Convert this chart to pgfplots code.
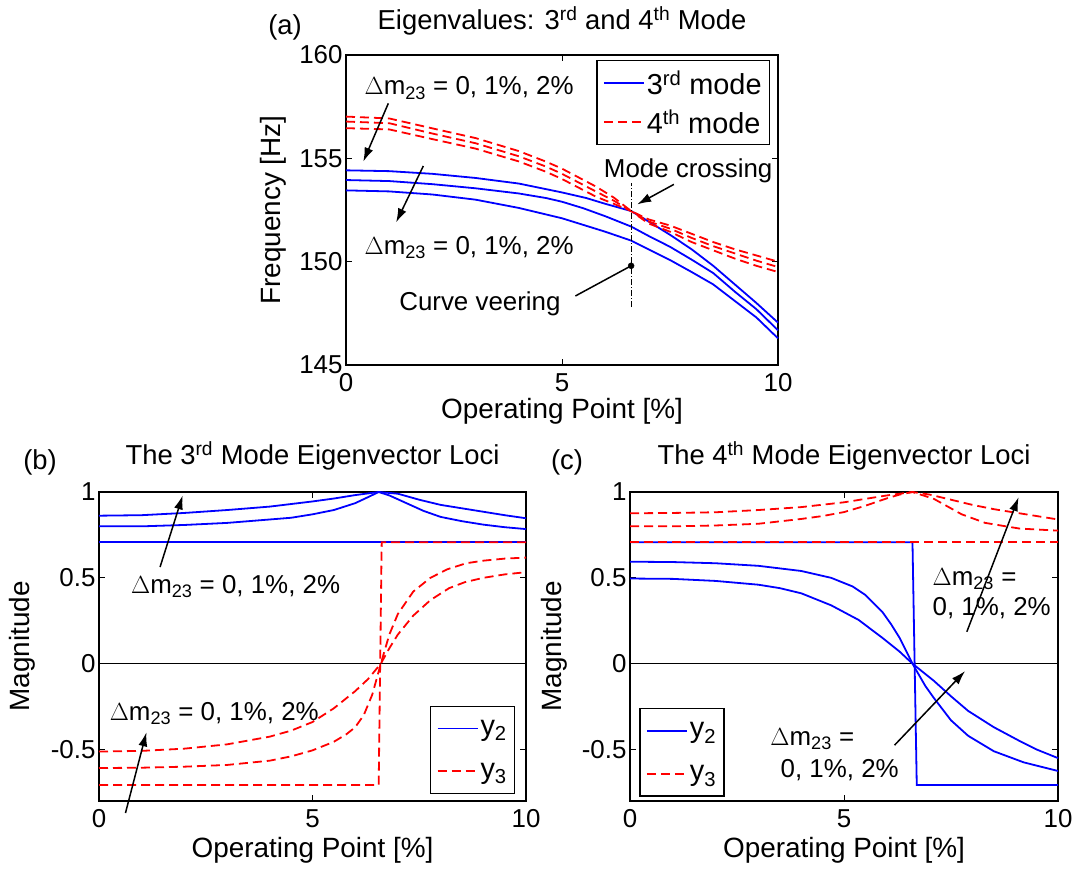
\documentclass[border=0pt]{standalone}
\usepackage{fontspec}
\setmainfont{Liberation Sans}
\usepackage{pgfplots}
\pgfplotsset{compat=1.18}
\usetikzlibrary{arrows.meta}
\definecolor{mblue}{RGB}{0,0,255}
\definecolor{mred}{RGB}{255,0,0}
\tikzset{arr/.style={-{Latex[length=14bp,width=9bp]}, line width=1.5bp, black},
  blu/.style={draw=mblue, color=mblue, line width=1.8bp},
  rdd/.style={draw=mred, color=mred, line width=1.8bp, dash pattern=on 9bp off 5bp}}
\pgfplotsset{
  mat/.style={
    scale only axis,
    xmin=0, xmax=10, xtick={0,5,10}, xticklabels={0,5,10},
    tick align=inside, major tick length=6bp,
    tick style={black, line width=0.8bp},
    axis line style={line width=1.4bp},
    tick label style={font=\fontsize{26}{30}\selectfont},
    xticklabel style={yshift=-5bp},
    label style={font=\fontsize{28}{32}\selectfont},
    title style={font=\fontsize{27.5}{32}\selectfont, anchor=center, at={(0.5,1)}},
    clip=false,
    legend cell align=left,
    legend style={font=\fontsize{29}{33}\selectfont, inner xsep=6bp, draw=black, line width=1.2bp},
    legend image code/.code={\draw[##1] (0bp,0bp) -- (40bp,0bp);},
  },
}
\newcommand{\dm}{$\Delta$m\textsubscript{23}}
\begin{document}
\begin{tikzpicture}
\path[use as bounding box] (0,0) rectangle (1077bp,-869bp);
\node[font=\fontsize{27.5}{32}\selectfont] at (285bp,-27bp) {(a)};
\node[font=\fontsize{27.5}{32}\selectfont] at (40bp,-462bp) {(b)};
\node[font=\fontsize{27.5}{32}\selectfont] at (567bp,-462bp) {(c)};

% ---------------- (a)
\begin{axis}[mat, at={(346bp,-55bp)}, anchor=north west, width=432bp, height=310bp,
  ymin=145, ymax=160, ytick={145,150,155,160}, yticklabels={145,150,155,160},
  title={Eigenvalues: 3\textsuperscript{rd} and 4\textsuperscript{th} Mode},
  title style={yshift=28bp},
  xlabel={Operating Point [\%]}, ylabel={Frequency [Hz]},
  xlabel style={at={(axis description cs:0.5,-0.15)}, anchor=center},
  ylabel style={at={(axis description cs:-0.169,0.5)}, anchor=center},
  legend style={at={(0.982,0.984)}, anchor=north east, inner ysep=8bp, row sep=10bp}]
\addplot[blu, forget plot] coordinates {(0,154.42) (1,154.38) (2,154.25) (3,154.05) (4,153.78) (5,153.35) (5.56,153.08) (6,152.8) (6.6,152.45) (7,151.95) (7.5,151.3) (8,150.6) (8.5,149.8) (9,148.9) (9.5,148.0) (10,147.05)};
\addplot[blu, forget plot] coordinates {(0,153.95) (1,153.9) (2,153.75) (3,153.55) (4,153.3) (4.63,153.08) (5,152.9) (5.5,152.58) (6,152.2) (6.6,151.7) (7,151.25) (7.5,150.72) (8,150.1) (8.5,149.45) (9,148.55) (9.5,147.7) (10,146.68)};
\addplot[blu, forget plot] coordinates {(0,153.45) (1,153.4) (2,153.25) (3,153.0) (4,152.6) (5,152.1) (6,151.45) (6.6,151.02) (7,150.6) (7.5,150.08) (8,149.5) (8.5,148.9) (9,148.1) (9.5,147.3) (10,146.29)};
\addplot[rdd, forget plot] coordinates {(0,157.02) (1,156.93) (2,156.45) (3,155.98) (4,155.35) (4.63,154.84) (5,154.5) (5.79,153.63) (6.2,153.1) (6.6,152.45) (7,152.05) (7.5,151.75) (8,151.35) (8.5,150.95) (9,150.6) (9.5,150.3) (10,150.0)};
\addplot[rdd, forget plot] coordinates {(0,156.78) (1,156.7) (2,156.2) (3,155.73) (4,155.1) (4.63,154.6) (5,154.25) (5.79,153.39) (6.2,152.95) (6.6,152.45) (7,151.95) (7.5,151.6) (8,151.15) (8.5,150.75) (9,150.4) (9.5,150.05) (10,149.74)};
\addplot[rdd, forget plot] coordinates {(0,156.46) (1,156.4) (2,155.93) (3,155.47) (4,154.85) (4.63,154.35) (5,154.0) (5.79,153.14) (6.2,152.8) (6.6,152.45) (7,151.85) (7.5,151.45) (8,150.95) (8.5,150.55) (9,150.15) (9.5,149.8) (10,149.5)};
\addplot[black, line width=0.8bp, dash pattern=on 6bp off 2bp on 1bp off 2bp, forget plot] coordinates {(6.6,147.8) (6.6,153.8)};
\addplot[black, only marks, mark=*, mark size=3bp, forget plot] coordinates {(6.6,149.8)};
\addlegendimage{draw=mblue, color=mblue, line width=1.8bp}
\addlegendentry{3\textsuperscript{rd} mode}
\addlegendimage{draw=mred, color=mred, line width=1.8bp, dash pattern=on 9bp off 5bp}
\addlegendentry{4\textsuperscript{th} mode}
\draw[line width=1.5bp] (6.6,149.8) -- (5.31,148.34);
\node[font=\fontsize{26}{30}\selectfont] at (3.1,147.95) {Curve veering};
\node[font=\fontsize{26}{30}\selectfont] at (7.92,154.4) {Mode crossing};
\draw[arr] (7.59,153.74) -- (6.74,152.77);
\node[font=\fontsize{26}{30}\selectfont] at (2.85,158.4) {\dm{} = 0, 1\%, 2\%};
\draw[arr] (0.98,157.66) -- (0.4,154.84);
\node[font=\fontsize{26}{30}\selectfont] at (2.85,150.7) {\dm{} = 0, 1\%, 2\%};
\draw[arr] (1.79,154.63) -- (1.16,151.9);
\end{axis}

% ---------------- (b)
\begin{axis}[mat, at={(99bp,-492bp)}, anchor=north west, width=427bp, height=309bp,
  ymin=-0.8, ymax=1, ytick={-0.5,0,0.5,1}, yticklabels={-0.5,0,0.5,1},
  title={The 3\textsuperscript{rd} Mode Eigenvector Loci},
  title style={yshift=30bp},
  xlabel={Operating Point [\%]}, ylabel={Magnitude},
  xlabel style={at={(axis description cs:0.5,-0.16)}, anchor=center},
  ylabel style={at={(axis description cs:-0.18,0.5)}, anchor=center},
  legend style={at={(0.975,0.022)}, anchor=south east, inner ysep=12bp, row sep=22bp}]
\addplot[black, line width=0.8bp, forget plot] coordinates {(0,0) (10,0)};
\addplot[blu, forget plot] coordinates {(0,0.862) (1,0.865) (2,0.878) (3,0.895) (4,0.915) (5,0.945) (5.5,0.962) (6,0.982) (6.55,1.0) (7,0.99) (7.5,0.955) (8,0.925) (8.5,0.905) (9,0.885) (9.5,0.865) (10,0.847)};
\addplot[blu, forget plot] coordinates {(0,0.80) (1,0.80) (2,0.808) (3,0.82) (4,0.84) (4.5,0.85) (5,0.87) (5.5,0.895) (6,0.935) (6.3,0.97) (6.55,1.0) (6.8,0.98) (7.2,0.935) (7.6,0.89) (8,0.855) (8.5,0.83) (9,0.81) (9.5,0.795) (10,0.784)};
\addplot[blu, forget plot] coordinates {(0,0.707) (10,0.707)};
\addplot[rdd, forget plot] coordinates {(0,-0.512) (1,-0.508) (2,-0.495) (3,-0.47) (4,-0.425) (4.5,-0.39) (5,-0.34) (5.5,-0.26) (6,-0.16) (6.3,-0.09) (6.6,0) (6.8,0.09) (7.0,0.17) (7.36,0.28) (7.76,0.37) (8.2,0.44) (8.57,0.475) (9,0.5) (9.5,0.52) (10,0.533)};
\addplot[rdd, forget plot] coordinates {(0,-0.608) (1,-0.606) (2,-0.60) (3,-0.59) (4,-0.565) (4.5,-0.54) (5,-0.505) (5.5,-0.455) (5.8,-0.41) (6,-0.37) (6.2,-0.30) (6.4,-0.18) (6.6,0) (6.8,0.17) (7.0,0.29) (7.36,0.42) (7.76,0.5) (8.16,0.55) (8.6,0.585) (9,0.6) (9.5,0.612) (10,0.618)};
\addplot[rdd, forget plot] coordinates {(0,-0.707) (6.55,-0.707) (6.62,0.707) (10,0.707)};
\addlegendimage{draw=mblue, color=mblue, line width=1.8bp}
\addlegendentry{y\textsubscript{2}}
\addlegendimage{draw=mred, color=mred, line width=1.8bp, dash pattern=on 9bp off 5bp}
\addlegendentry{y\textsubscript{3}}
\node[font=\fontsize{26}{30}\selectfont] at (3.2,0.45) {\dm{} = 0, 1\%, 2\%};
\draw[arr] (1.43,0.563) -- (1.96,0.98);
\node[font=\fontsize{26}{30}\selectfont] at (2.7,-0.29) {\dm{} = 0, 1\%, 2\%};
\draw[arr] (0.62,-0.87) -- (1.11,-0.40);
\end{axis}

% ---------------- (c)
\begin{axis}[mat, at={(630bp,-492bp)}, anchor=north west, width=428bp, height=309bp,
  ymin=-0.8, ymax=1, ytick={-0.5,0,0.5,1}, yticklabels={-0.5,0,0.5,1},
  title={The 4\textsuperscript{th} Mode Eigenvector Loci},
  title style={yshift=30bp},
  xlabel={Operating Point [\%]}, ylabel={Magnitude},
  xlabel style={at={(axis description cs:0.5,-0.16)}, anchor=center},
  ylabel style={at={(axis description cs:-0.178,0.5)}, anchor=center},
  legend style={at={(0.022,0.014)}, anchor=south west, inner ysep=12bp, row sep=22bp}]
\addplot[black, line width=0.8bp, forget plot] coordinates {(0,0) (10,0)};
\addplot[blu, forget plot] coordinates {(0,0.594) (1,0.592) (2,0.585) (3,0.57) (4,0.54) (4.7,0.50) (5.2,0.45) (5.5,0.40) (5.9,0.30) (6.1,0.23) (6.3,0.15) (6.6,0) (6.9,-0.13) (7.1,-0.2) (7.5,-0.33) (7.9,-0.42) (8.5,-0.51) (9.2,-0.575) (10,-0.625)};
\addplot[blu, forget plot] coordinates {(0,0.496) (1,0.494) (2,0.482) (3,0.46) (3.5,0.44) (4,0.41) (4.7,0.34) (5.34,0.255) (5.9,0.15) (6.3,0.07) (6.6,0) (7.1,-0.1) (7.5,-0.19) (7.9,-0.275) (8.5,-0.37) (9.1,-0.45) (9.5,-0.5) (10,-0.55)};
\addplot[blu, forget plot] coordinates {(0,0.707) (6.6,0.707) (6.7,-0.707) (10,-0.707)};
\addplot[rdd, forget plot] coordinates {(0,0.876) (1,0.878) (2,0.882) (3,0.895) (4,0.912) (5,0.94) (5.5,0.96) (6,0.98) (6.6,1.0) (7,0.985) (7.5,0.955) (8,0.925) (8.5,0.9) (9,0.88) (9.5,0.86) (10,0.84)};
\addplot[rdd, forget plot] coordinates {(0,0.80) (1,0.80) (2,0.805) (3,0.815) (4,0.843) (4.5,0.86) (5,0.883) (5.5,0.92) (6,0.963) (6.3,0.985) (6.6,1.0) (7.1,0.96) (7.75,0.87) (8.3,0.82) (9.1,0.787) (10,0.775)};
\addplot[rdd, forget plot] coordinates {(0,0.707) (10,0.707)};
\addlegendimage{draw=mblue, color=mblue, line width=1.8bp}
\addlegendentry{y\textsubscript{2}}
\addlegendimage{draw=mred, color=mred, line width=1.8bp, dash pattern=on 9bp off 5bp}
\addlegendentry{y\textsubscript{3}}
\node[font=\fontsize{26}{30}\selectfont, align=left, anchor=west] at (6.99,0.41) {\dm{} =\\0, 1\%, 2\%};
\draw[arr] (7.87,0.186) -- (9.08,0.97);
\node[font=\fontsize{26}{30}\selectfont] at (4.26,-0.44) {\dm{} =};
\node[font=\fontsize{26}{30}\selectfont] at (4.9,-0.62) {0, 1\%, 2\%};
\draw[arr] (6.18,-0.475) -- (7.83,-0.043);
\end{axis}
\end{tikzpicture}
\end{document}
